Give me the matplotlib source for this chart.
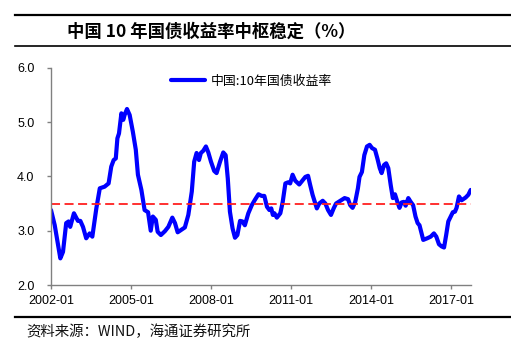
import numpy as np
import matplotlib
matplotlib.use("Agg")
from matplotlib import pyplot as plt
from matplotlib.lines import Line2D

# 中国10年国债收益率 (decimal years)
years = [
    2002.00, 2002.14, 2002.35, 2002.45, 2002.57, 2002.66, 2002.72, 2002.86,
    2003.01, 2003.10, 2003.20, 2003.32, 2003.45, 2003.55, 2003.70, 2003.83,
    2004.01, 2004.16, 2004.26, 2004.35, 2004.43, 2004.49, 2004.55, 2004.64,
    2004.71, 2004.76, 2004.85, 2004.95, 2005.07, 2005.18, 2005.26, 2005.39,
    2005.51, 2005.64, 2005.74, 2005.82, 2005.93, 2006.00, 2006.12, 2006.27,
    2006.40, 2006.55, 2006.65, 2006.75, 2006.87, 2007.02, 2007.15, 2007.28,
    2007.37, 2007.46, 2007.55, 2007.62, 2007.71, 2007.81, 2007.90, 2008.00,
    2008.12, 2008.21, 2008.34, 2008.46, 2008.55, 2008.63, 2008.71, 2008.81,
    2008.90, 2008.99, 2009.09, 2009.18, 2009.27, 2009.40, 2009.53, 2009.65,
    2009.78, 2009.90, 2010.00, 2010.10, 2010.19, 2010.26, 2010.32, 2010.38,
    2010.47, 2010.60, 2010.69, 2010.79, 2010.89, 2010.97, 2011.06, 2011.16,
    2011.31, 2011.44, 2011.54, 2011.64, 2011.72, 2011.81, 2011.91, 2011.97,
    2012.06, 2012.19, 2012.29, 2012.39, 2012.50, 2012.60, 2012.69, 2012.85,
    2013.01, 2013.14, 2013.22, 2013.31, 2013.41, 2013.51, 2013.57, 2013.66,
    2013.75, 2013.85, 2013.95, 2014.04, 2014.15, 2014.24, 2014.33, 2014.40,
    2014.49, 2014.57, 2014.65, 2014.74, 2014.82, 2014.90, 2014.99, 2015.07,
    2015.15, 2015.23, 2015.30, 2015.40, 2015.49, 2015.58, 2015.67, 2015.75,
    2015.82, 2015.90, 2015.96, 2016.11, 2016.24, 2016.36, 2016.45, 2016.55,
    2016.65, 2016.74, 2016.82, 2016.90, 2016.99, 2017.07, 2017.15, 2017.21,
    2017.30, 2017.40, 2017.55, 2017.65, 2017.74,
]
yields = [
    3.38, 3.10, 2.49, 2.61, 3.14, 3.17, 3.07, 3.32,
    3.18, 3.18, 3.07, 2.86, 2.95, 2.89, 3.41, 3.78,
    3.81, 3.87, 4.18, 4.30, 4.33, 4.70, 4.79, 5.16,
    5.04, 5.13, 5.24, 5.13, 4.82, 4.49, 4.03, 3.75,
    3.38, 3.34, 3.00, 3.26, 3.20, 2.98, 2.92, 2.99,
    3.07, 3.24, 3.14, 2.97, 3.01, 3.06, 3.29, 3.72,
    4.27, 4.43, 4.30, 4.43, 4.47, 4.55, 4.44, 4.27,
    4.10, 4.06, 4.27, 4.44, 4.39, 3.96, 3.35, 3.04,
    2.87, 2.92, 3.18, 3.17, 3.10, 3.32, 3.47, 3.57,
    3.67, 3.64, 3.64, 3.44, 3.38, 3.41, 3.29, 3.32,
    3.24, 3.32, 3.53, 3.87, 3.89, 3.87, 4.03, 3.92,
    3.85, 3.93, 3.99, 4.01, 3.84, 3.66, 3.50, 3.41,
    3.50, 3.55, 3.50, 3.38, 3.29, 3.41, 3.50, 3.55,
    3.60, 3.58, 3.47, 3.42, 3.53, 3.78, 3.99, 4.08,
    4.39, 4.55, 4.58, 4.52, 4.49, 4.33, 4.15, 4.06,
    4.21, 4.24, 4.15, 3.84, 3.60, 3.67, 3.53, 3.42,
    3.52, 3.53, 3.46, 3.60, 3.53, 3.47, 3.26, 3.14,
    3.10, 2.95, 2.83, 2.86, 2.89, 2.95, 2.89, 2.75,
    2.71, 2.69, 2.92, 3.17, 3.26, 3.34, 3.35, 3.42,
    3.63, 3.56, 3.61, 3.66, 3.75,
]
center = 3.5
tick_years = [2002, 2005, 2008, 2011, 2014, 2017]
tick_labels = [f"{y}-01" for y in tick_years]

title = "中国 10 年国债收益率中枢稳定（%）"
legend_label = "中国:10年国债收益率"
source = "资料来源：WIND，海通证券研究所"

cjk = ["Noto Sans CJK SC", "DejaVu Sans"]
latin = ["Liberation Sans", "DejaVu Sans"]

fig = plt.figure(figsize=(5.11, 3.48), dpi=100)
ax = fig.add_axes([51 / 511, 1 - 285 / 348, (470.7 - 51) / 511, (285 - 67.7) / 348])

ax.plot(years, yields, color="#0000ff", lw=3, solid_joinstyle="round",
        solid_capstyle="round", label=legend_label)
ax.axhline(center, color="#ff2020", lw=1.3, dashes=(5, 2.5))

ax.set_xlim(2002.0, 2017.74)
ax.set_ylim(2.0, 6.0)
ax.set_xticks(tick_years)
ax.set_xticklabels(tick_labels)
ax.set_yticks(np.arange(2.0, 6.01, 1.0))
ax.set_yticklabels([f"{v:.1f}" for v in np.arange(2.0, 6.01, 1.0)])
for lab in ax.get_xticklabels() + ax.get_yticklabels():
    lab.set_family(latin)
    lab.set_fontsize(9)

for side in ["top", "right"]:
    ax.spines[side].set_visible(False)
for side in ["left", "bottom"]:
    ax.spines[side].set_color("#808080")
    ax.spines[side].set_linewidth(1)
ax.tick_params(axis="both", direction="out", length=3, width=1, color="#808080")
ax.tick_params(axis="y", pad=9)
ax.tick_params(axis="x", pad=4)

leg = ax.legend(loc="center left", bbox_to_anchor=(171 / 511, 1 - 81 / 348),
                bbox_transform=fig.transFigure, frameon=False, borderpad=0,
                borderaxespad=0, handlelength=2.6, handletextpad=0.45,
                prop={"family": cjk, "size": 9.3})

# header and footer rules
for y, lw in [(15, 1.6), (46, 1.2), (317, 1.6)]:
    fig.add_artist(Line2D([15 / 511, 1.0], [1 - y / 348, 1 - y / 348],
                          transform=fig.transFigure, color="black", lw=lw))

fig.text(67 / 511, 1 - 31.5 / 348, title, family=cjk, fontsize=12.5,
         fontweight="bold", va="center", ha="left")
fig.text(26.7 / 511, 1 - 331.5 / 348, source, family=cjk, fontsize=10.4,
         va="center", ha="left", color="#111111")

fig.savefig("out.png", dpi=100)
